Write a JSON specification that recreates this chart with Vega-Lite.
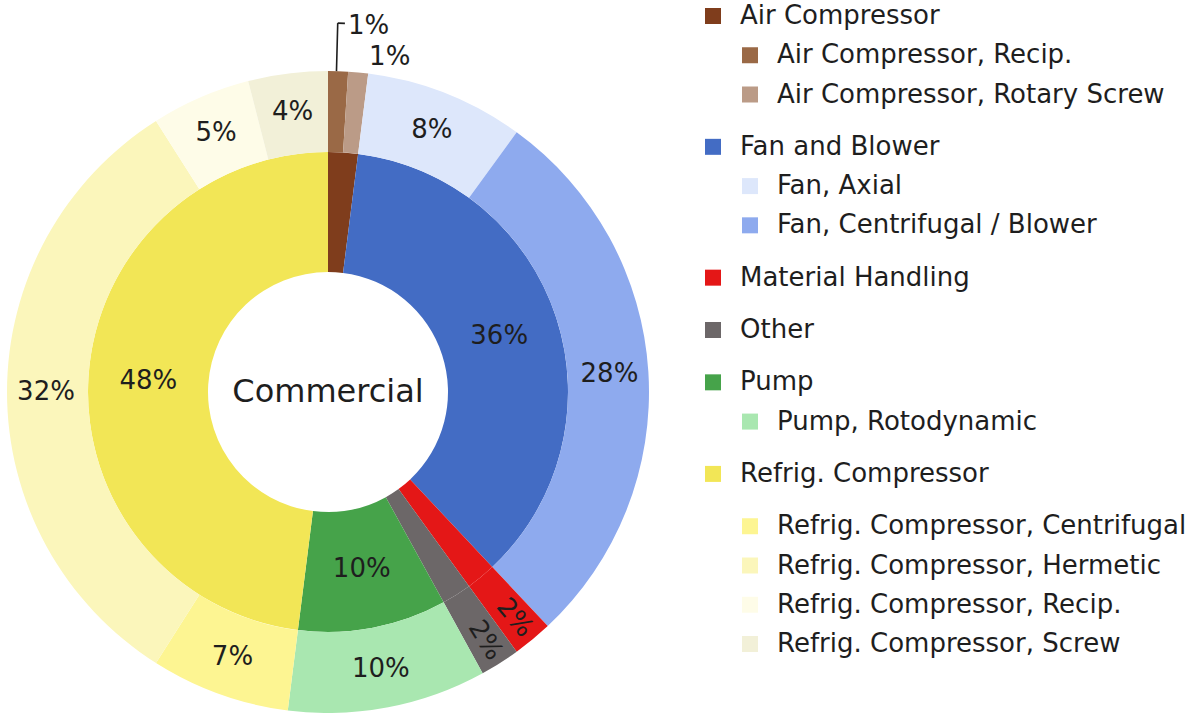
{
  "$schema": "https://vega.github.io/schema/vega-lite/v6.json",
  "padding": 0,
  "spacing": 0,
  "bounds": "flush",
  "background": "white",
  "config": {"view": {"stroke": null}, "font": "DejaVu Sans"},
  "datasets": {
    "pie": [
      {"ring": "inner", "name": "Air Compressor", "share": 0.02},
      {"ring": "inner", "name": "Fan and Blower", "share": 0.36},
      {"ring": "inner", "name": "Material Handling", "share": 0.02},
      {"ring": "inner", "name": "Other", "share": 0.02},
      {"ring": "inner", "name": "Pump", "share": 0.10},
      {"ring": "inner", "name": "Refrig. Compressor", "share": 0.48},
      {"ring": "outer", "name": "Air Compressor, Recip.", "share": 0.01},
      {"ring": "outer", "name": "Air Compressor, Rotary Screw", "share": 0.01},
      {"ring": "outer", "name": "Fan, Axial", "share": 0.08},
      {"ring": "outer", "name": "Fan, Centrifugal / Blower", "share": 0.28},
      {"ring": "outer", "name": "Material Handling", "share": 0.02},
      {"ring": "outer", "name": "Other", "share": 0.02},
      {"ring": "outer", "name": "Pump, Rotodynamic", "share": 0.10},
      {"ring": "outer", "name": "Refrig. Compressor, Centrifugal", "share": 0.07},
      {"ring": "outer", "name": "Refrig. Compressor, Hermetic", "share": 0.32},
      {"ring": "outer", "name": "Refrig. Compressor, Recip.", "share": 0.05},
      {"ring": "outer", "name": "Refrig. Compressor, Screw", "share": 0.04}
    ],
    "legend": [
      {"name": "Air Compressor", "level": "parent"},
      {"name": "Air Compressor, Recip.", "level": "child"},
      {"name": "Air Compressor, Rotary Screw", "level": "child"},
      {"name": "Fan and Blower", "level": "parent"},
      {"name": "Fan, Axial", "level": "child"},
      {"name": "Fan, Centrifugal / Blower", "level": "child"},
      {"name": "Material Handling", "level": "parent"},
      {"name": "Other", "level": "parent"},
      {"name": "Pump", "level": "parent"},
      {"name": "Pump, Rotodynamic", "level": "child"},
      {"name": "Refrig. Compressor", "level": "parent"},
      {"name": "Refrig. Compressor, Centrifugal", "level": "child"},
      {"name": "Refrig. Compressor, Hermetic", "level": "child"},
      {"name": "Refrig. Compressor, Recip.", "level": "child"},
      {"name": "Refrig. Compressor, Screw", "level": "child"}
    ]
  },
  "hconcat": [
    {
      "width": 656,
      "height": 713,
      "data": {"name": "pie"},
      "layer": [
        {
          "transform": [{"filter": "datum.ring === 'inner'"}],
          "mark": {"type": "arc", "radius": 240, "radius2": 120, "yOffset": 35.5},
          "encoding": {
            "theta": {"field": "share", "type": "quantitative", "stack": true},
            "order": {"field": "name", "type": "ordinal"},
            "color": {"field": "name", "type": "nominal", "legend": null,
              "scale": {
                "domain": ["Air Compressor", "Air Compressor, Recip.", "Air Compressor, Rotary Screw", "Fan and Blower", "Fan, Axial", "Fan, Centrifugal / Blower", "Material Handling", "Other", "Pump", "Pump, Rotodynamic", "Refrig. Compressor", "Refrig. Compressor, Centrifugal", "Refrig. Compressor, Hermetic", "Refrig. Compressor, Recip.", "Refrig. Compressor, Screw"],
                "range": ["#7f3d1c", "#9a6946", "#bb9b87", "#436cc4", "#dde7fb", "#8eaaee", "#e41717", "#6c6768", "#46a34a", "#a9e7b0", "#f2e656", "#fdf592", "#fbf6bb", "#fefce8", "#f2f0d8"]
              }}
          }
        },
        {
          "transform": [{"filter": "datum.ring === 'outer'"}],
          "mark": {"type": "arc", "radius": 321, "radius2": 240, "yOffset": 35.5},
          "encoding": {
            "theta": {"field": "share", "type": "quantitative", "stack": true},
            "order": {"field": "name", "type": "ordinal"},
            "color": {"field": "name", "type": "nominal", "legend": null,
              "scale": {
                "domain": ["Air Compressor", "Air Compressor, Recip.", "Air Compressor, Rotary Screw", "Fan and Blower", "Fan, Axial", "Fan, Centrifugal / Blower", "Material Handling", "Other", "Pump", "Pump, Rotodynamic", "Refrig. Compressor", "Refrig. Compressor, Centrifugal", "Refrig. Compressor, Hermetic", "Refrig. Compressor, Recip.", "Refrig. Compressor, Screw"],
                "range": ["#7f3d1c", "#9a6946", "#bb9b87", "#436cc4", "#dde7fb", "#8eaaee", "#e41717", "#6c6768", "#46a34a", "#a9e7b0", "#f2e656", "#fdf592", "#fbf6bb", "#fefce8", "#f2f0d8"]
              }}
          }
        },
        {
          "transform": [{"filter": "datum.ring === 'inner'"}],
          "mark": {"type": "text", "radius": 180, "yOffset": 35.5, "fontSize": 26, "color": "#1e1e1e", "align": "center", "baseline": "middle"},
          "encoding": {
            "theta": {"field": "share", "type": "quantitative", "stack": true},
            "order": {"field": "name", "type": "ordinal"},
            "text": {"condition": {"test": "datum.share >= 0.05", "field": "share", "type": "quantitative", "format": ".0%"}, "value": ""}
          }
        },
        {
          "transform": [{"filter": "datum.ring === 'outer'"}],
          "mark": {"type": "text", "radius": 282, "yOffset": 35.5, "fontSize": 26, "color": "#1e1e1e", "align": "center", "baseline": "middle"},
          "encoding": {
            "theta": {"field": "share", "type": "quantitative", "stack": true},
            "order": {"field": "name", "type": "ordinal"},
            "text": {"condition": {"test": "datum.share >= 0.04", "field": "share", "type": "quantitative", "format": ".0%"}, "value": ""}
          }
        },
        {
          "transform": [{"filter": "datum.ring === 'outer'"}],
          "mark": {"type": "text", "radius": 293, "angle": 50, "yOffset": 35.5, "fontSize": 26, "color": "#1e1e1e", "align": "center", "baseline": "middle"},
          "encoding": {
            "theta": {"field": "share", "type": "quantitative", "stack": true},
            "order": {"field": "name", "type": "ordinal"},
            "text": {"condition": {"test": "datum.name === 'Material Handling'", "field": "share", "type": "quantitative", "format": ".0%"}, "value": ""}
          }
        },
        {
          "transform": [{"filter": "datum.ring === 'outer'"}],
          "mark": {"type": "text", "radius": 294, "angle": 58, "yOffset": 35.5, "fontSize": 26, "color": "#1e1e1e", "align": "center", "baseline": "middle"},
          "encoding": {
            "theta": {"field": "share", "type": "quantitative", "stack": true},
            "order": {"field": "name", "type": "ordinal"},
            "text": {"condition": {"test": "datum.name === 'Other'", "field": "share", "type": "quantitative", "format": ".0%"}, "value": ""}
          }
        },
        {
          "transform": [
            {"filter": "datum.ring === 'outer'"},
            {"stack": "share", "groupby": [], "sort": [{"field": "name", "order": "ascending"}], "as": ["s0", "s1"]},
            {"filter": "datum.name === 'Air Compressor, Recip.'"}
          ],
          "mark": {"type": "text", "radius": 366, "dx": 20, "yOffset": 35.5, "fontSize": 26, "color": "#1e1e1e", "align": "left", "baseline": "middle"},
          "encoding": {
            "theta": {"field": "s0", "type": "quantitative"},
            "text": {"field": "share", "type": "quantitative", "format": ".0%"}
          }
        },
        {
          "transform": [
            {"filter": "datum.ring === 'outer'"},
            {"stack": "share", "groupby": [], "sort": [{"field": "name", "order": "ascending"}], "as": ["s0", "s1"]},
            {"filter": "datum.name === 'Air Compressor, Rotary Screw'"}
          ],
          "mark": {"type": "text", "radius": 336, "dx": 20, "yOffset": 35.5, "fontSize": 26, "color": "#1e1e1e", "align": "left", "baseline": "middle"},
          "encoding": {
            "theta": {"field": "s0", "type": "quantitative"},
            "text": {"field": "share", "type": "quantitative", "format": ".0%"}
          }
        },
        {
          "data": {"values": [{}]},
          "mark": {"type": "arc", "radius": 369, "radius2": 321, "filled": false, "stroke": "#1e1e1e", "strokeWidth": 1.6, "yOffset": 35.5},
          "encoding": {
            "theta": {"datum": 0.0042, "type": "quantitative"},
            "theta2": {"datum": 0.0042}
          }
        },
        {
          "data": {"values": [{}]},
          "mark": {"type": "arc", "radius": 369, "radius2": 369, "filled": false, "stroke": "#1e1e1e", "strokeWidth": 1.6, "yOffset": 35.5},
          "encoding": {
            "theta": {"datum": 0.0042, "type": "quantitative"},
            "theta2": {"datum": 0.0073}
          }
        },
        {
          "data": {"values": [{"title": "Commercial"}]},
          "mark": {"type": "text", "yOffset": 35.5, "fontSize": 32, "color": "#1e1e1e", "align": "center", "baseline": "middle"},
          "encoding": {"text": {"field": "title", "type": "nominal"}}
        }
      ]
    },
    {
      "width": 533,
      "height": 713,
      "data": {"name": "legend"},
      "encoding": {
        "y": {"field": "name", "type": "nominal", "axis": null,
          "scale": {"type": "point", "padding": 0, "range": [16, 644],
            "domain": ["Air Compressor", "_1", "_2", "Air Compressor, Recip.", "_4", "_5", "Air Compressor, Rotary Screw", "_7", "_8", "_9", "Fan and Blower", "_11", "_12", "Fan, Axial", "_14", "_15", "Fan, Centrifugal / Blower", "_17", "_18", "_19", "Material Handling", "_21", "_22", "_23", "Other", "_25", "_26", "_27", "Pump", "_29", "_30", "Pump, Rotodynamic", "_32", "_33", "_34", "Refrig. Compressor", "_36", "_37", "_38", "Refrig. Compressor, Centrifugal", "_40", "_41", "Refrig. Compressor, Hermetic", "_43", "_44", "Refrig. Compressor, Recip.", "_46", "_47", "Refrig. Compressor, Screw"]}},
        "x": {"field": "level", "type": "nominal", "axis": null,
          "scale": {"type": "point", "padding": 0, "domain": ["parent", "child"], "range": [57, 94]}}
      },
      "layer": [
        {
          "mark": {"type": "square", "size": 256, "filled": true, "opacity": 1},
          "encoding": {
            "color": {"field": "name", "type": "nominal", "legend": null,
              "scale": {
                "domain": ["Air Compressor", "Air Compressor, Recip.", "Air Compressor, Rotary Screw", "Fan and Blower", "Fan, Axial", "Fan, Centrifugal / Blower", "Material Handling", "Other", "Pump", "Pump, Rotodynamic", "Refrig. Compressor", "Refrig. Compressor, Centrifugal", "Refrig. Compressor, Hermetic", "Refrig. Compressor, Recip.", "Refrig. Compressor, Screw"],
                "range": ["#7f3d1c", "#9a6946", "#bb9b87", "#436cc4", "#dde7fb", "#8eaaee", "#e41717", "#6c6768", "#46a34a", "#a9e7b0", "#f2e656", "#fdf592", "#fbf6bb", "#fefce8", "#f2f0d8"]
              }}
          }
        },
        {
          "mark": {"type": "text", "align": "left", "baseline": "middle", "dx": 27, "fontSize": 26, "color": "#1e1e1e"},
          "encoding": {"text": {"field": "name", "type": "nominal"}}
        }
      ]
    }
  ]
}
